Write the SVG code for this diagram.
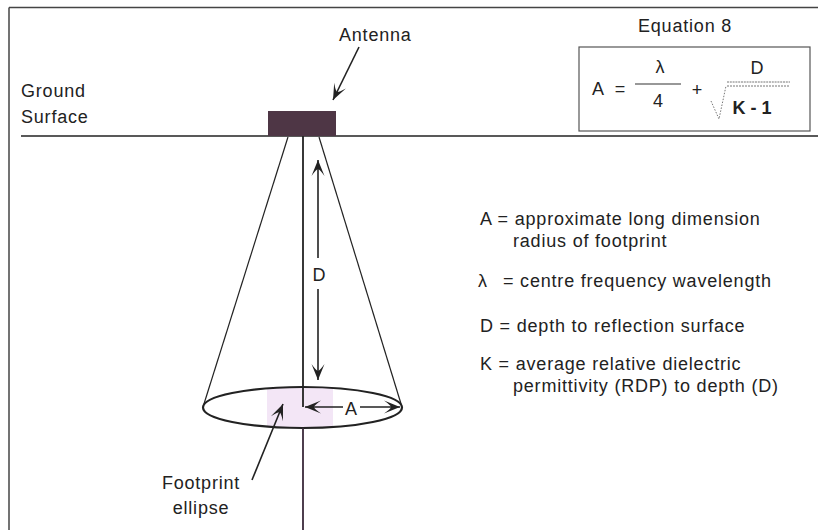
<svg xmlns="http://www.w3.org/2000/svg" width="818" height="530" viewBox="0 0 818 530">
<style>
text{font-family:"Liberation Sans",Arial,Helvetica,sans-serif;font-size:18px;letter-spacing:0.8px;fill:#222}
.thin{stroke:#222;stroke-width:1.2;fill:none}
.mid{stroke:#222;stroke-width:1.6;fill:none}
.frame{stroke:#444;stroke-width:1.5;fill:none}
.eq{letter-spacing:0}
</style>
<defs>
<marker id="arr" markerUnits="userSpaceOnUse" orient="auto" viewBox="-17 -7 18 14" refX="0" refY="0" markerWidth="18" markerHeight="14">
<path d="M0,0 L-16,-6.5 Q-9,-1.5 -9,0 Q-9,1.5 -16,6.5 Z" fill="#222"/>
</marker>
<clipPath id="ellClip"><ellipse cx="302.5" cy="407.5" rx="99.5" ry="20.5"/></clipPath>
</defs>

<g id="frame">
<line class="frame" x1="9" y1="7.5" x2="818" y2="7.5"/>
<line class="frame" x1="9" y1="7.5" x2="9" y2="530"/>
</g>

<g id="ground-surface">
<line x1="21" y1="136" x2="818" y2="136" stroke="#222" stroke-width="1.5"/>
<text x="21" y="97">Ground</text>
<text x="21" y="123">Surface</text>
</g>

<g id="antenna">
<rect x="268" y="111" width="68" height="25" fill="#4e3645"/>
<text x="339" y="41">Antenna</text>
</g>

<g id="equation">
<text x="638" y="32">Equation 8</text>
<rect x="579" y="47" width="231" height="84" fill="none" stroke="#555" stroke-width="1.2"/>
<text class="eq" x="592" y="95">A</text>
<text class="eq" x="620" y="95" font-size="20" text-anchor="middle">=</text>
<text class="eq" x="660" y="73" text-anchor="middle" font-size="16">λ</text>
<line x1="635" y1="84" x2="681" y2="84" stroke="#333" stroke-width="1.2"/>
<text class="eq" x="658" y="107" text-anchor="middle">4</text>
<text class="eq" x="697" y="96" text-anchor="middle">+</text>
<text class="eq" x="757" y="74" text-anchor="middle">D</text>
<line x1="727" y1="82" x2="790" y2="82" stroke="#666" stroke-width="0.9" stroke-dasharray="2 0.8"/>
<line x1="727" y1="86" x2="790" y2="86" stroke="#666" stroke-width="0.9" stroke-dasharray="2 1"/>
<path d="M711,101 L719,119 L726,86" fill="none" stroke="#777" stroke-width="1" stroke-dasharray="1.5 1.5"/>
<text class="eq" x="752" y="114" text-anchor="middle" font-weight="bold">K - 1</text>
</g>

<g id="footprint-ellipse">
<rect x="267" y="385" width="66" height="45" fill="#f3e6f6" clip-path="url(#ellClip)"/>
<ellipse cx="302.5" cy="407.5" rx="99.5" ry="20.5" fill="none" stroke="#222" stroke-width="2.2"/>
<text x="201" y="489" text-anchor="middle">Footprint</text>
<text x="201" y="514" text-anchor="middle">ellipse</text>
</g>

<g id="legend">
<text x="480" y="225">A = approximate long dimension</text>
<text x="513" y="247">radius of footprint</text>
<text x="478" y="287" font-size="15">λ</text>
<text x="503" y="287">= centre frequency wavelength</text>
<text x="480" y="332">D = depth to reflection surface</text>
<text x="480" y="370">K = average relative dielectric</text>
<text x="513" y="392">permittivity (RDP) to depth (D)</text>
</g>

<g id="connectors">
<line class="thin" x1="288" y1="137" x2="203" y2="407"/>
<line class="thin" x1="319" y1="137" x2="402" y2="407"/>
<line x1="303" y1="136" x2="303" y2="407" stroke="#222" stroke-width="1.8"/>
<line x1="303" y1="428" x2="303" y2="530" stroke="#3a2a3a" stroke-width="1.8"/>
<line class="mid" x1="359" y1="47" x2="333" y2="100" marker-end="url(#arr)"/>
<line class="mid" x1="318" y1="258" x2="318" y2="160" marker-end="url(#arr)"/>
<text x="319.5" y="281" text-anchor="middle" letter-spacing="0">D</text>
<line class="mid" x1="318" y1="289" x2="318" y2="380" marker-end="url(#arr)"/>
<line class="mid" x1="343" y1="407" x2="305" y2="407" marker-end="url(#arr)"/>
<text x="351.5" y="415" text-anchor="middle" letter-spacing="0">A</text>
<line class="mid" x1="360" y1="407" x2="400" y2="407" marker-end="url(#arr)"/>
<line class="mid" x1="252" y1="480" x2="283" y2="404" marker-end="url(#arr)"/>
</g>
</svg>
